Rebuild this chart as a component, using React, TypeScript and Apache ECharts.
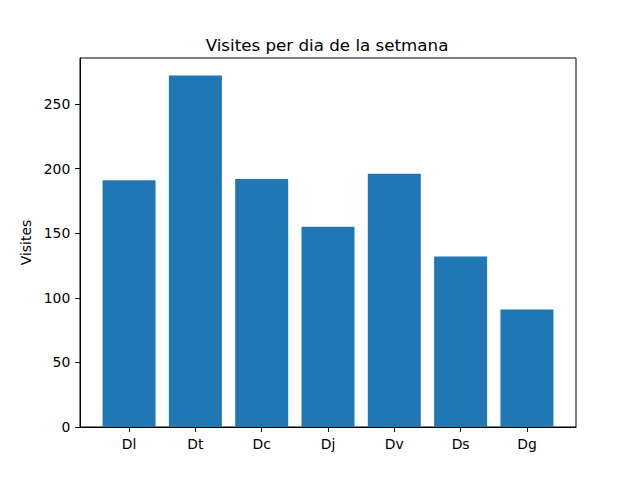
import React, { useEffect, useRef } from "react";
import * as echarts from "echarts";

const categories = ["Dl", "Dt", "Dc", "Dj", "Dv", "Ds", "Dg"];
const visits = [191, 272, 192, 155, 196, 132, 91];
const yTicks = [0, 50, 100, 150, 200, 250];

export default function App() {
  const ref = useRef<HTMLDivElement>(null);
  useEffect(() => {
    document.body.style.margin = "0";
    const chart = echarts.init(ref.current!, null, { renderer: "svg" });
    const font = "DejaVu Sans";
    const idx = categories.map((_, i) => i);
    chart.setOption({
      animation: false,
      backgroundColor: "#ffffff",
      graphic: [
        {
          type: "text",
          x: 327,
          y: 45,
          style: {
            text: "Visites per dia de la setmana",
            fontFamily: font,
            fontSize: 16.7,
            fill: "#000",
            align: "center",
            verticalAlign: "middle",
          },
        },
      ],
      grid: {
        left: 80,
        right: 64,
        top: 58,
        bottom: 53,
        show: true,
        borderColor: "#000",
        borderWidth: 1,
        backgroundColor: "transparent",
      },
      xAxis: {
        type: "value",
        min: -0.74,
        max: 6.74,
        splitLine: { show: false },
        axisLine: { show: true, onZero: false, lineStyle: { color: "#000", width: 1 } },
        axisTick: { show: true, customValues: idx, length: 4.86, lineStyle: { color: "#000" } },
        axisLabel: {
          customValues: idx,
          formatter: (v: number) => categories[Math.round(v)] ?? "",
          margin: 9.7,
          fontFamily: font,
          fontSize: 13.9,
          color: "#000",
        },
      },
      yAxis: {
        type: "value",
        min: 0,
        max: 285.6,
        interval: 50,
        name: "Visites",
        nameLocation: "middle",
        nameGap: 38,
        nameTextStyle: { fontFamily: font, fontSize: 13.9, color: "#000" },
        splitLine: { show: false },
        axisLine: { show: true, onZero: false, lineStyle: { color: "#000", width: 1 } },
        axisTick: { show: true, customValues: yTicks, length: 4.86, lineStyle: { color: "#000" } },
        axisLabel: {
          customValues: yTicks,
          margin: 9.7,
          fontFamily: font,
          fontSize: 13.9,
          color: "#000",
        },
      },
      series: [
        {
          type: "bar",
          data: visits.map((v, i) => [i, v]),
          barWidth: 53,
          itemStyle: { color: "#1f77b4" },
        },
      ],
    });
    return () => chart.dispose();
  }, []);
  return <div ref={ref} style={{ width: 640, height: 480 }} />;
}
